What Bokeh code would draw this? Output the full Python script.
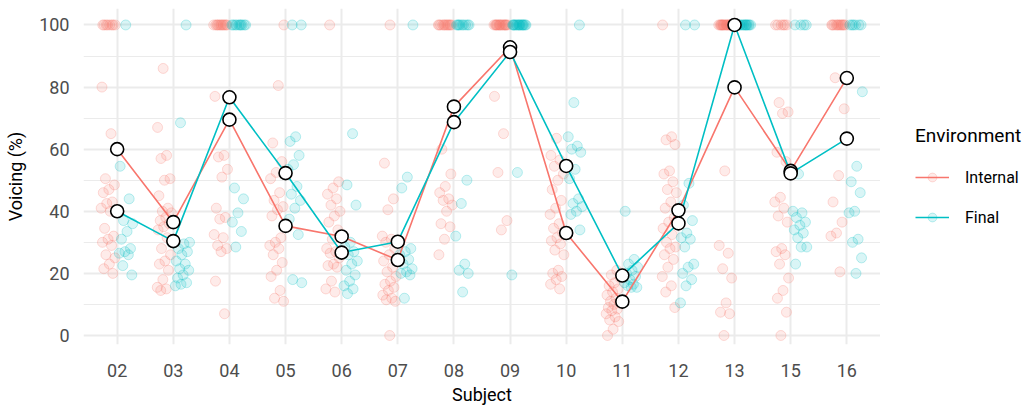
from bokeh.plotting import figure
from bokeh.layouts import row
from bokeh.models import FixedTicker, Legend, LegendItem, ColumnDataSource, Range1d
from bokeh.embed import file_html
from bokeh.resources import INLINE

subjects = ["02", "03", "04", "05", "06", "07", "08", "09", "10", "11", "12", "13", "15", "16"]
environments = ["Internal", "Final"]

internal_means = [60.0, 36.5, 69.5, 35.3, 31.9, 24.3, 73.7, 92.8, 33.0, 10.9, 40.3, 79.9, 53.0, 82.9]
final_means = [40.0, 30.4, 76.7, 52.3, 26.7, 30.2, 68.7, 91.3, 54.6, 19.3, 36.1, 100.0, 52.2, 63.4]

int_02 = [100, 100, 100, 100, 100, 100, 100, 100, 80, 65, 50.5, 48.5, 47, 46, 43, 42.5, 41, 40, 34.5, 32, 31, 30, 29, 26, 25, 23, 21.5, 20]
fin_02 = [100, 54.5, 44, 37, 36, 33.5, 31, 28, 27, 26.5, 26, 22.5, 19.5]
int_03 = [86, 67, 58, 57, 50.5, 50, 45, 41, 40, 39.5, 38, 37, 36, 35, 34, 31.5, 28, 26, 24, 23, 21, 18, 15.5, 15, 14.5]
fin_03 = [100, 68.5, 30, 29.5, 28, 27, 26, 24, 23, 21.5, 21, 19.5, 18.5, 17, 16.5, 16]
int_04 = [100, 100, 100, 100, 100, 100, 100, 100, 100, 100, 100, 100, 77, 58, 57.5, 53.5, 51, 41, 38, 37.5, 32.5, 31.5, 29, 28, 27, 17.5, 7]
fin_04 = [100, 100, 100, 100, 100, 100, 100, 100, 100, 100, 47.5, 44, 39.5, 36.5, 33.5, 28.5]
int_05 = [100, 80.5, 62, 56, 52.5, 50.5, 46, 43.5, 41.5, 40.5, 38.5, 31.5, 30, 29, 28, 26, 23.5, 21, 19, 14.5, 12, 11]
fin_05 = [100, 100, 64, 62.5, 58, 55, 53.5, 48, 45.5, 43.5, 41, 37.5, 32.5, 18, 17]
int_06 = [100, 49.5, 47.5, 45.5, 44, 42, 40, 38.5, 36.5, 34, 31, 28, 27, 26.5, 25, 23, 22.5, 22, 17.5, 15, 14]
fin_06 = [65, 48.5, 42, 30, 28.5, 27, 26, 24, 23, 21, 19.5, 17.5, 16, 15, 13.5]
int_07 = [100, 55.5, 44, 40.5, 32, 31, 30, 28, 26, 24, 22, 20.5, 19, 17.5, 16.5, 15.5, 14.5, 13, 12, 11.5, 11, 0]
fin_07 = [100, 51, 47.5, 28, 27, 26, 24.5, 23, 21.5, 20.5, 20, 19.5, 12]
int_08 = [100, 100, 100, 100, 100, 100, 100, 100, 100, 100, 100, 100, 60, 52, 48, 46, 44, 43.5, 42, 40, 36, 35, 31, 26]
fin_08 = [100, 100, 100, 100, 100, 100, 100, 100, 100, 50, 42.5, 32, 23, 21, 20, 14]
int_09 = [100, 100, 100, 100, 100, 100, 100, 100, 100, 100, 100, 100, 100, 100, 100, 100, 77, 65, 52.5, 37, 34]
fin_09 = [100, 100, 100, 100, 100, 100, 100, 100, 100, 100, 100, 100, 100, 100, 100, 100, 52.5, 19.5]
int_10 = [63.5, 58, 56.5, 54.5, 52, 50, 47, 43.5, 41, 39, 36, 34.5, 33, 31.5, 30.5, 29.5, 27.5, 26, 21, 20, 19, 18, 16.5, 15]
fin_10 = [100, 75, 64, 61, 60, 59, 53.5, 50.5, 44, 42.5, 41.5, 40, 39, 34]
int_11 = [21, 19.5, 18.5, 17, 16, 15, 14, 13, 12, 11, 10.5, 10, 9, 8.5, 8, 7, 6, 5, 4.5, 2, 0]
fin_11 = [40, 24.5, 23, 22, 21, 20, 19, 18, 17, 16.5, 16, 15.5, 15.5]
int_12 = [100, 64, 63, 61.5, 53, 52, 49.5, 47, 46, 43, 41, 38, 36.5, 34.5, 32.5, 30, 28.5, 28, 26, 24.5, 22, 19, 16, 14, 9]
fin_12 = [100, 100, 49, 42, 37, 33, 31.5, 31, 28.5, 23, 22, 20, 18, 16, 10.5]
int_13 = [100, 100, 100, 100, 100, 100, 100, 100, 100, 100, 100, 100, 100, 100, 100, 100, 100, 100, 53, 29, 26.5, 21.5, 18.5, 10.5, 7.5, 7, 0]
fin_13 = [100, 100, 100, 100, 100, 100, 100, 100, 100, 100, 100, 100, 100, 100]
int_15 = [100, 100, 100, 100, 100, 100, 75, 72, 71.5, 59, 56, 44.5, 43, 41, 38.5, 36.5, 28, 27, 26, 23, 18.5, 14.5, 12, 7.5, 0]
fin_15 = [100, 100, 100, 100, 52, 40, 39.5, 38, 36.5, 35.5, 34, 33, 31.5, 28.5, 28.5, 23]
int_16 = [100, 100, 100, 100, 100, 100, 100, 100, 100, 100, 100, 100, 83, 73, 51.5, 43, 36.5, 33, 32, 20.5]
fin_16 = [100, 100, 100, 100, 100, 100, 78.5, 54.5, 49.5, 46, 40, 39.5, 31, 30, 25, 20]

internal_obs = [int_02, int_03, int_04, int_05, int_06, int_07, int_08, int_09, int_10, int_11, int_12, int_13, int_15, int_16]
final_obs = [fin_02, fin_03, fin_04, fin_05, fin_06, fin_07, fin_08, fin_09, fin_10, fin_11, fin_12, fin_13, fin_15, fin_16]

COL_INT = "#F8766D"
COL_FIN = "#00BFC4"
FONT = "Roboto"

# positions: category index + dodge + deterministic jitter
def build_points(groups, dodge, seed):
    xs, ys = [], []
    for i, vals in enumerate(groups):
        for k, v in enumerate(vals):
            frac = (k * 0.6180339 + seed + i * 0.29) % 1.0
            xs.append(i + 1 + dodge + (frac - 0.5) * 0.26)
            ys.append(v)
    return ColumnDataSource(dict(x=xs, y=ys))

src_int = build_points(internal_obs, -0.16, 0.13)
src_fin = build_points(final_obs, 0.16, 0.47)
cat_x = list(range(1, len(subjects) + 1))
src_mi = ColumnDataSource(dict(x=cat_x, y=internal_means))
src_mf = ColumnDataSource(dict(x=cat_x, y=final_means))

PT = dict(size=10, fill_alpha=0.15, line_alpha=0.25, line_width=1)

p = figure(width=880, height=407, x_range=Range1d(0.4, 14.6), y_range=Range1d(-2.9, 105.3),
           output_backend="svg", toolbar_location=None,
           min_border_left=83, min_border_right=0, min_border_top=8, min_border_bottom=59)
p.outline_line_color = None
p.background_fill_color = "white"

p.scatter("x", "y", source=src_int, fill_color=COL_INT, line_color=COL_INT, **PT)
p.scatter("x", "y", source=src_fin, fill_color=COL_FIN, line_color=COL_FIN, **PT)
p.line("x", "y", source=src_mi, line_color=COL_INT, line_width=1.6)
p.line("x", "y", source=src_mf, line_color=COL_FIN, line_width=1.6)
p.scatter("x", "y", source=src_mi, size=13, fill_color="white", line_color="black", line_width=1.6)
p.scatter("x", "y", source=src_mf, size=13, fill_color="white", line_color="black", line_width=1.6)

# axes
p.xaxis.ticker = FixedTicker(ticks=cat_x)
p.xaxis.major_label_overrides = {i + 1: s for i, s in enumerate(subjects)}
p.yaxis.ticker = FixedTicker(ticks=[0, 20, 40, 60, 80, 100], minor_ticks=[10, 30, 50, 70, 90])
for ax in (p.xaxis[0], p.yaxis[0]):
    ax.axis_line_color = None
    ax.major_tick_line_color = None
    ax.minor_tick_line_color = None
    ax.major_label_text_font = FONT
    ax.major_label_text_font_size = "18px"
    ax.major_label_text_color = "#4D4D4D"
    ax.axis_label_text_font = FONT
    ax.axis_label_text_font_size = "18px"
    ax.axis_label_text_font_style = "normal"
    ax.axis_label_text_color = "black"
p.xaxis.axis_label = "Subject"
p.yaxis.axis_label = "Voicing (%)"
p.xaxis.major_label_standoff = 13
p.xaxis.axis_label_standoff = 4
p.yaxis.major_label_standoff = 8
p.yaxis.axis_label_standoff = 10

p.xgrid.grid_line_color = "#EBEBEB"
p.xgrid.grid_line_width = 2
p.ygrid.grid_line_color = "#EBEBEB"
p.ygrid.grid_line_width = 2
p.ygrid.minor_grid_line_color = "#EBEBEB"
p.ygrid.minor_grid_line_width = 1

# legend panel (guide) to the right of the plot; its renderers share the data
# but the view range is set so that nothing is drawn in this panel itself
lg = figure(width=151, height=407, x_range=Range1d(100, 101), y_range=Range1d(1000, 1001),
            x_axis_type=None, y_axis_type=None, output_backend="svg", toolbar_location=None,
            min_border=0)
lg.outline_line_color = None
lg.grid.visible = False
gl_i = lg.line("x", "y", source=src_mi, line_color=COL_INT, line_width=1.6)
gs_i = lg.scatter("x", "y", source=src_int, fill_color=COL_INT, line_color=COL_INT, **PT)
gl_f = lg.line("x", "y", source=src_mf, line_color=COL_FIN, line_width=1.6)
gs_f = lg.scatter("x", "y", source=src_fin, fill_color=COL_FIN, line_color=COL_FIN, **PT)

legend = Legend(items=[LegendItem(label=environments[0], renderers=[gl_i, gs_i]),
                       LegendItem(label=environments[1], renderers=[gl_f, gs_f])],
                title="Environment", location=(35, 116))
legend.border_line_color = None
legend.background_fill_alpha = 0
legend.title_text_font = FONT
legend.title_text_font_size = "19px"
legend.title_text_font_style = "normal"
legend.title_text_color = "black"
legend.title_standoff = 19
legend.label_text_font = FONT
legend.label_text_font_size = "16px"
legend.label_text_color = "black"
legend.glyph_width = 34
legend.glyph_height = 22
legend.label_standoff = 16
legend.spacing = 18
legend.padding = 0
legend.margin = 0
lg.add_layout(legend)

layout = row(p, lg, spacing=0)
open("out.html", "w").write(file_html(layout, INLINE))
